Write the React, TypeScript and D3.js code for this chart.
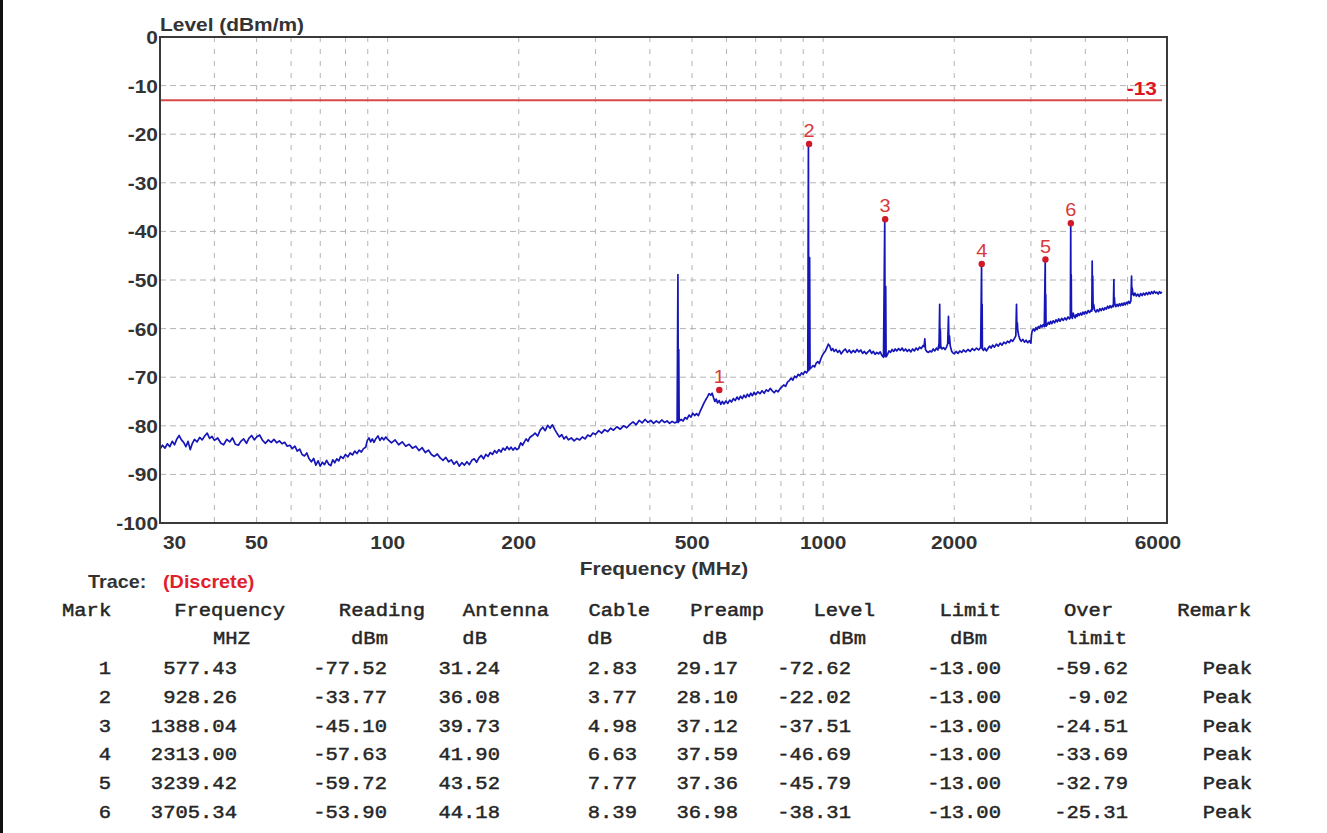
import React from 'react';
import * as d3 from 'd3';

const W = 1327;
const H = 833;

// ---------- data ----------
const yTicks = [0, -10, -20, -30, -40, -50, -60, -70, -80, -90, -100];
const xTickLabels = [30, 50, 100, 200, 500, 1000, 2000, 6000];
const xGrid = [40, 50, 60, 70, 80, 90, 100, 200, 300, 400, 500, 600, 700, 800, 900, 1000, 2000, 3000, 4000, 5000];
const limitLevel = -13;

// measured trace: [frequency MHz, level dBm/m]
const trace: [number, number][] = [
  [30, -84.8], [30.4, -84.0], [30.8, -84.6], [31.2, -83.7], [31.6, -84.3], [32, -83.2], [32.4, -83.9], [32.8, -82.7], [33.2, -82.0], [33.6, -82.9],
  [34, -83.4], [34.4, -84.3], [34.8, -83.2], [35.2, -84.9], [35.6, -83.6], [36, -82.8], [36.5, -83.3], [37, -82.4], [37.5, -82.9], [38, -82.1],
  [38.5, -81.5], [39, -82.6], [39.5, -82.2], [40, -83.0], [40.7, -82.5], [41.4, -83.6], [42, -83.9], [42.7, -82.8], [43.4, -83.3], [44, -82.5],
  [44.7, -83.8], [45.4, -84.0], [46, -83.2], [46.7, -82.7], [47.4, -83.6], [48, -82.6], [48.7, -82.0], [49.4, -82.9], [50, -82.3], [50.8, -81.9],
  [51.6, -83.0], [52.4, -83.6], [53.2, -82.9], [54, -83.4], [54.8, -82.8], [55.6, -83.5], [56.4, -83.1], [57.2, -83.7], [58, -83.4], [58.8, -84.2],
  [59.6, -84.0], [60.4, -84.7], [61.2, -84.2], [62, -85.2], [62.8, -84.8], [63.6, -85.9], [64.4, -86.2], [65.2, -85.6], [66, -86.8], [66.8, -87.4],
  [67.6, -86.7], [68.4, -88.1], [69.2, -87.2], [70, -88.3], [70.8, -87.5], [71.6, -88.0], [72.4, -87.1], [73.2, -87.9], [74, -88.2], [74.8, -87.0],
  [75.6, -87.6], [76.4, -86.8], [77.2, -87.2], [78, -86.3], [79, -86.7], [80, -85.9], [81, -86.4], [82, -85.6], [83, -86.0], [84, -85.2],
  [85, -85.7], [86, -85.0], [87, -85.4], [88, -84.7], [89, -84.4], [89.8, -83.0], [90.6, -82.5], [91.4, -83.3], [92.2, -82.7], [93, -83.4],
  [94, -82.6], [95, -82.1], [96, -83.0], [97, -82.4], [98, -82.9], [99, -82.3], [100, -82.8], [102, -83.5], [104, -82.9], [106, -83.9],
  [108, -83.3], [110, -84.2], [112, -83.8], [114, -84.6], [116, -84.2], [118, -85.1], [120, -84.5], [122, -85.5], [124, -85.0], [126, -85.9],
  [128, -86.3], [130, -85.8], [132, -86.6], [134, -87.1], [136, -86.5], [138, -87.4], [140, -87.0], [142, -87.9], [144, -87.3], [146, -88.3],
  [148, -87.6], [150, -88.1], [152, -87.4], [154, -88.0], [156, -87.1], [158, -86.8], [160, -87.5], [162, -86.6], [164, -86.1], [166, -86.8],
  [168, -85.9], [170, -86.3], [172, -85.5], [174, -85.9], [176, -85.1], [178, -85.6], [180, -84.9], [182, -85.4], [184, -84.6], [186, -85.0],
  [188, -84.3], [190, -84.9], [192, -84.4], [194, -85.0], [196, -84.5], [198, -84.9], [200, -84.6], [202, -83.5], [204, -84.0], [206, -83.3],
  [208, -82.7], [210, -83.2], [212, -82.4], [215, -82.0], [218, -81.5], [221, -82.1], [224, -80.9], [227, -80.3], [230, -81.0], [233, -79.9],
  [236, -80.5], [239, -79.8], [242, -80.8], [245, -81.6], [248, -82.3], [251, -81.8], [254, -82.7], [257, -82.2], [260, -82.9], [264, -82.5],
  [268, -83.1], [272, -82.6], [276, -82.9], [280, -82.3], [284, -82.7], [288, -81.9], [292, -82.2], [296, -81.5], [300, -81.8], [305, -81.0],
  [310, -81.5], [315, -80.8], [320, -81.2], [325, -80.5], [330, -80.9], [336, -80.2], [342, -80.7], [348, -80.0], [354, -80.4], [360, -79.7],
  [366, -79.2], [372, -79.8], [378, -78.9], [384, -79.4], [390, -78.7], [396, -79.3], [402, -78.9], [408, -79.5], [414, -79.0], [420, -79.4],
  [426, -78.8], [432, -79.3], [438, -79.0], [444, -79.5], [450, -79.1], [456, -79.4], [462, -79.2],
  [464, -48.9], [465, -79.3], [466, -64.3], [467, -79.0],
  [472, -78.7], [477, -79.0], [482, -78.3], [487, -78.6], [492, -77.8], [497, -78.2], [502, -77.4], [507, -77.9], [512, -77.5], [517, -77.9],
  [522, -77.0], [527, -76.2], [532, -75.4], [537, -74.7], [542, -74.1], [547, -73.4], [552, -73.7], [556, -73.3], [560, -74.2], [564, -75.0],
  [568, -74.5], [572, -75.3], [577, -74.8], [582, -75.6], [587, -75.0], [592, -75.5], [598, -74.9], [604, -75.4], [610, -74.7], [616, -75.1],
  [622, -74.4], [628, -74.8], [634, -74.1], [640, -74.6], [646, -73.9], [652, -74.4], [658, -73.7], [664, -74.2], [670, -73.5], [676, -74.0],
  [682, -73.3], [688, -73.8], [694, -73.1], [700, -73.6], [708, -73.0], [716, -73.4], [724, -72.8], [732, -73.3], [740, -72.6], [748, -72.9],
  [756, -72.3], [764, -72.8], [772, -73.2], [780, -72.7], [788, -73.0], [796, -72.4], [804, -72.0], [812, -71.6], [820, -71.9], [828, -71.0],
  [836, -70.7], [844, -70.2], [852, -70.6], [860, -69.8], [868, -70.1], [876, -69.4], [884, -69.7], [892, -69.1], [900, -69.4], [908, -68.8],
  [916, -69.1], [922, -68.7],
  [925, -22.3], [927, -68.6], [931, -45.4], [933, -68.3],
  [940, -68.0], [948, -67.6], [956, -67.9], [964, -67.1], [972, -66.8], [980, -67.2], [988, -66.2], [996, -65.5], [1004, -65.0], [1012, -64.6],
  [1020, -63.9], [1028, -63.2], [1036, -63.6], [1044, -64.5], [1052, -64.1], [1060, -64.7], [1070, -64.3], [1080, -64.9], [1090, -64.5], [1100, -65.2],
  [1112, -64.6], [1124, -64.2], [1136, -64.9], [1148, -64.4], [1160, -65.0], [1172, -64.5], [1184, -64.9], [1196, -64.3], [1208, -64.8], [1220, -64.4],
  [1232, -65.1], [1244, -64.7], [1256, -65.2], [1268, -64.8], [1280, -64.4], [1292, -65.1], [1304, -64.7], [1316, -65.3], [1328, -64.9], [1340, -65.2],
  [1352, -64.8], [1364, -65.5], [1376, -65.9],
  [1385, -37.8], [1388, -65.7], [1392, -51.3], [1395, -65.8],
  [1404, -65.4], [1416, -64.6], [1428, -64.9], [1440, -64.3], [1452, -64.7], [1464, -64.2], [1476, -64.6], [1490, -64.1], [1504, -64.5], [1518, -64.0],
  [1532, -64.6], [1546, -64.2], [1560, -64.7], [1575, -64.3], [1590, -64.8], [1605, -64.2], [1620, -64.6], [1635, -64.0], [1650, -64.4], [1665, -63.8],
  [1680, -64.1], [1695, -63.5], [1705, -63.7], [1712, -62.1], [1718, -64.3], [1730, -64.7], [1745, -64.9], [1760, -64.6], [1775, -64.8], [1790, -64.2],
  [1805, -64.6], [1820, -64.0], [1835, -64.4],
  [1846, -63.0], [1852, -55.0], [1855, -64.0], [1858, -60.2], [1862, -63.6],
  [1875, -64.2], [1890, -63.9], [1905, -64.3], [1920, -63.8], [1932, -63.1],
  [1940, -57.5], [1945, -63.0], [1950, -61.5], [1958, -63.5],
  [1972, -64.6], [1986, -65.0], [2000, -65.2], [2020, -64.7], [2040, -65.1], [2060, -64.6], [2080, -64.9], [2100, -64.4], [2125, -64.8], [2150, -64.3],
  [2175, -64.7], [2200, -64.1], [2225, -64.5], [2250, -64.0], [2275, -64.4], [2300, -63.9],
  [2311, -46.9], [2314, -64.0], [2318, -55.0], [2321, -64.2],
  [2335, -64.5], [2350, -64.0], [2370, -64.6], [2390, -64.1], [2410, -63.6], [2430, -64.0], [2450, -63.4], [2475, -63.8], [2500, -63.2], [2525, -63.6],
  [2550, -63.0], [2575, -63.4], [2600, -62.8], [2625, -63.1], [2650, -62.6], [2675, -62.9], [2700, -62.3], [2725, -62.6], [2750, -62.0], [2770, -61.5],
  [2780, -55.0], [2786, -60.0], [2792, -58.8], [2800, -60.6], [2815, -61.5],
  [2830, -62.2], [2850, -62.6], [2875, -62.2], [2900, -62.8], [2925, -62.4], [2950, -62.9], [2975, -62.5], [3000, -63.0], [3010, -61.2], [3020, -60.5],
  [3040, -60.1], [3060, -60.5], [3080, -59.8], [3100, -60.2], [3120, -59.6], [3140, -59.9], [3160, -59.3], [3180, -59.7], [3200, -59.2], [3220, -59.6],
  [3236, -46.0], [3240, -59.4], [3245, -53.0], [3250, -59.5],
  [3270, -59.2], [3290, -58.7], [3310, -59.1], [3330, -58.5], [3350, -59.0], [3375, -58.4], [3400, -58.8], [3425, -58.2], [3450, -58.6], [3475, -58.0],
  [3500, -58.5], [3530, -57.9], [3560, -58.3], [3590, -57.8], [3620, -58.2], [3650, -57.6], [3680, -58.0], [3695, -57.7],
  [3703, -38.5], [3708, -57.6], [3713, -48.9], [3718, -57.5],
  [3735, -57.9], [3750, -56.8], [3770, -57.4], [3790, -57.8], [3810, -57.1], [3830, -57.5], [3850, -56.9], [3875, -57.3], [3900, -56.8], [3925, -57.2],
  [3950, -56.6], [3975, -57.0], [4000, -56.5], [4030, -56.9], [4060, -56.3], [4090, -56.7], [4120, -56.2], [4140, -56.4],
  [4148, -46.1], [4154, -56.0], [4160, -49.2], [4168, -55.6], [4180, -55.0],
  [4200, -56.2], [4230, -56.6], [4260, -56.1], [4290, -56.5], [4320, -55.9], [4350, -56.3], [4380, -55.8], [4410, -56.2], [4440, -55.7], [4470, -56.0],
  [4500, -55.4], [4530, -55.8], [4560, -55.3], [4590, -55.7], [4620, -55.2], [4640, -55.5],
  [4652, -49.9], [4658, -55.0], [4665, -53.6], [4675, -54.9],
  [4700, -55.5], [4730, -55.0], [4760, -55.4], [4790, -54.9], [4820, -55.3], [4850, -54.8], [4880, -55.2], [4910, -54.7], [4940, -55.1], [4970, -54.6],
  [5000, -54.9], [5030, -54.4], [5060, -54.8], [5090, -54.3],
  [5108, -49.2], [5115, -53.0], [5125, -51.6], [5140, -52.6],
  [5170, -53.2], [5200, -52.7], [5240, -53.3], [5280, -52.9], [5320, -53.4], [5360, -52.8], [5400, -53.2], [5440, -52.7], [5480, -53.1], [5520, -52.6],
  [5560, -53.0], [5600, -52.5], [5640, -52.9], [5680, -52.4], [5720, -52.8], [5760, -52.3], [5800, -52.7], [5840, -52.5], [5880, -52.9], [5920, -52.4],
  [5960, -52.7], [6000, -52.5],
];

// marker table
const markNo = [1, 2, 3, 4, 5, 6];
const markFreq = [577.43, 928.26, 1388.04, 2313.0, 3239.42, 3705.34];
const markReading = [-77.52, -33.77, -45.1, -57.63, -59.72, -53.9];
const markAntenna = [31.24, 36.08, 39.73, 41.9, 43.52, 44.18];
const markCable = [2.83, 3.77, 4.98, 6.63, 7.77, 8.39];
const markPreamp = [29.17, 28.1, 37.12, 37.59, 37.36, 36.98];
const markLevel = [-72.62, -22.02, -37.51, -46.69, -45.79, -38.31];
const markLimit = [-13.0, -13.0, -13.0, -13.0, -13.0, -13.0];
const markOver = [-59.62, -9.02, -24.51, -33.69, -32.79, -25.31];
const markRemark = ['Peak', 'Peak', 'Peak', 'Peak', 'Peak', 'Peak'];

const headers = ['Mark', 'Frequency', 'Reading', 'Antenna', 'Cable', 'Preamp', 'Level', 'Limit', 'Over', 'Remark'];
const units = ['', 'MHZ', 'dBm', 'dB', 'dB', 'dB', 'dBm', 'dBm', 'limit', ''];

// ---------- layout ----------
const PL = 160, PR = 1162, FR = 1167, PT = 37, PB = 523;

const SANS = '"Liberation Sans", Arial, sans-serif';
const MONO = '"Liberation Mono", "Courier New", monospace';

type TP = {
  x: number; y: number; children: React.ReactNode; size?: number; sx?: number;
  anchor?: 'start' | 'middle' | 'end'; weight?: string | number; fill?: string; family?: string; stroke?: number;
};
const T = ({ x, y, children, size = 19, sx = 1.1, anchor = 'start', weight = 'bold', fill = '#333', family = SANS, stroke = 0 }: TP) => (
  <text
    transform={`translate(${x},${y}) scale(${sx},1)`}
    textAnchor={anchor}
    fontSize={size}
    fontWeight={weight}
    fill={fill}
    fontFamily={family}
    stroke={stroke ? fill : 'none'}
    strokeWidth={stroke}
  >
    {children}
  </text>
);

export default function App() {
  const x = d3.scaleLog().domain([30, 6000]).range([PL, PR]);
  const y = d3.scaleLinear().domain([-100, 0]).range([PB, PT]);
  const line = d3
    .line<[number, number]>()
    .x((d) => x(d[0]))
    .y((d) => y(d[1]));

  const hdrPos: [number, 'start' | 'end'][] = [
    [62, 'start'], [285, 'end'], [425, 'end'], [549, 'end'], [650, 'end'],
    [764, 'end'], [875, 'end'], [1001, 'end'], [1064, 'start'], [1251, 'end'],
  ];
  const unitPos = [0, 250, 388, 487, 612, 727, 866, 987, 1127, 0];
  const valRight = [111, 237, 387, 500, 637, 738, 851, 1001, 1128, 1252];
  const rowY0 = 674;
  const rowH = 28.8;

  const f2 = (v: number) => v.toFixed(2);
  const rows = markNo.map((n, i) => [
    String(n), f2(markFreq[i]), f2(markReading[i]), f2(markAntenna[i]), f2(markCable[i]),
    f2(markPreamp[i]), f2(markLevel[i]), f2(markLimit[i]), f2(markOver[i]), markRemark[i],
  ]);

  const tableFill = '#262626';
  const tStroke = 0.45;

  return (
    <svg
      width={W}
      height={H}
      viewBox={`0 0 ${W} ${H}`}
      style={{ position: 'fixed', left: 0, top: 0, background: '#fff' }}
    >
      <rect x={0} y={0} width={W} height={H} fill="#fff" />
      <rect x={0} y={0} width={3} height={H} fill="#111" />

      {/* grid */}
      <g stroke="#b4b4b4" strokeWidth={1}>
        {yTicks.filter((t) => t !== 0 && t !== -100).map((t) => (
          <line key={'h' + t} x1={PL} x2={FR} y1={y(t)} y2={y(t)} strokeDasharray="6,4" />
        ))}
        {xGrid.map((g) => (
          <line key={'v' + g} x1={x(g)} x2={x(g)} y1={PT} y2={PB} strokeDasharray="5,7" />
        ))}
      </g>

      {/* limit line */}
      <line x1={PL} x2={PR} y1={y(limitLevel)} y2={y(limitLevel)} stroke="#d84a4a" strokeWidth={2} />
      <T x={1157} y={y(limitLevel) - 5} anchor="end" fill="#e0141e">
        {String(limitLevel)}
      </T>

      {/* trace */}
      <path d={line(trace) || ''} fill="none" stroke="#1616b8" strokeWidth={1.7} strokeLinejoin="round" />

      {/* markers */}
      {markNo.map((n, i) => (
        <g key={'m' + n}>
          <circle cx={x(markFreq[i])} cy={y(markLevel[i])} r={3.2} fill="#d01828" />
          <T x={x(markFreq[i])} y={y(markLevel[i]) - 7} anchor="middle" weight="normal" size={19} sx={1.05} fill="#d83a3a">
            {String(n)}
          </T>
        </g>
      ))}

      {/* frame */}
      <rect x={PL} y={PT} width={FR - PL} height={PB - PT} fill="none" stroke="#3a3a3a" strokeWidth={2} />

      {/* y axis labels */}
      {yTicks.map((t) => (
        <T key={'yl' + t} x={158} y={y(t) + 7} anchor="end">
          {String(t)}
        </T>
      ))}
      <T x={160} y={31}>Level (dBm/m)</T>

      {/* x axis labels */}
      {xTickLabels.map((t, i) => {
        const first = i === 0;
        const last = i === xTickLabels.length - 1;
        return (
          <T key={'xl' + t} x={x(t) + (first ? 3 : last ? -4 : 0)} y={549} anchor={first ? 'start' : 'middle'}>
            {String(t)}
          </T>
        );
      })}
      <T x={664} y={575} anchor="middle">Frequency (MHz)</T>

      {/* trace label */}
      <T x={88} y={588} size={18}>Trace:</T>
      <T x={163} y={588} size={18} fill="#e0202c">(Discrete)</T>

      {/* table */}
      {headers.map((h, i) => (
        <T key={'th' + i} x={hdrPos[i][0]} y={616} anchor={hdrPos[i][1]} family={MONO} size={18} sx={1.14} weight="normal" fill={tableFill} stroke={tStroke}>
          {h}
        </T>
      ))}
      {units.map((u, i) =>
        u ? (
          <T key={'tu' + i} x={unitPos[i]} y={644} anchor="end" family={MONO} size={18} sx={1.14} weight="normal" fill={tableFill} stroke={tStroke}>
            {u}
          </T>
        ) : null
      )}
      {rows.map((r, ri) =>
        r.map((c, ci) => (
          <T key={'c' + ri + '_' + ci} x={valRight[ci]} y={rowY0 + ri * rowH} anchor="end" family={MONO} size={18} sx={1.14} weight="normal" fill={tableFill} stroke={tStroke}>
            {c}
          </T>
        ))
      )}
    </svg>
  );
}
